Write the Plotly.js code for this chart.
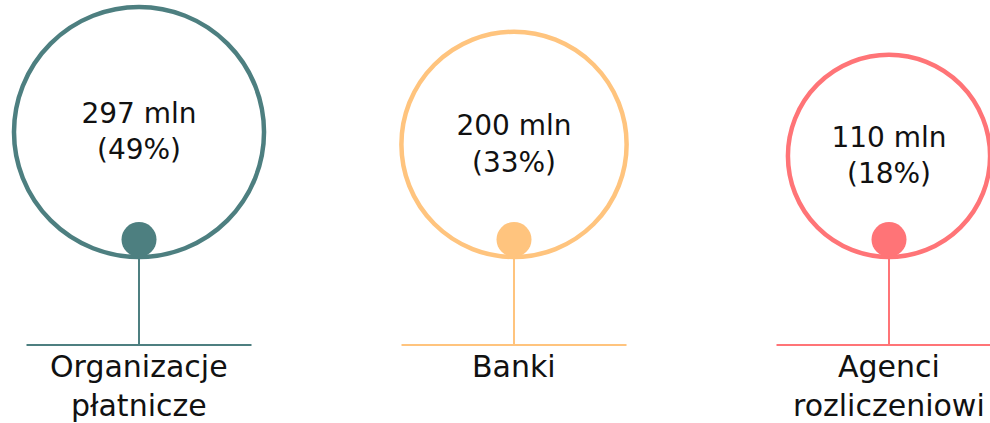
<!DOCTYPE html>
<html>
<head>
<meta charset="utf-8">
<script src="https://cdn.plot.ly/plotly-3.0.1.min.js"></script>
<style>html,body{margin:0;padding:0;background:#fff;}#chart{width:990px;height:423px;}</style>
</head>
<body>
<div id="chart"></div>
<script>
// ---- data ----
const categories = ['Organizacje<br>płatnicze', 'Banki', 'Agenci<br>rozliczeniowi'];
const values = [297, 200, 110];          // mln
const shares = [49, 33, 18];             // %
const colors = ['#4D7F80', '#FFC47E', '#FF7477'];

// ---- geometry (styling, in plot units) ----
const baseY = 257;     // bottom of every circle
const lineY = 345;     // horizontal base line
const radius = v => 87 + 0.128 * v;   // circle radius (px) from value
const dotSize = 35;
const halfBar = 0.30;

const traces = [];
const annotations = [];
categories.forEach((cat, i) => {
  const r = radius(values[i]);
  const cy = baseY - r;
  // stem and base line
  traces.push({x: [i, i], y: [baseY, lineY], mode: 'lines', line: {color: colors[i], width: 2}, hoverinfo: 'skip'});
  traces.push({x: [i - halfBar, i + halfBar], y: [lineY, lineY], mode: 'lines', line: {color: colors[i], width: 2}, hoverinfo: 'skip'});
  // big ring
  traces.push({x: [i], y: [cy], mode: 'markers',
    marker: {symbol: 'circle', size: 2 * r, color: 'rgba(0,0,0,0)', line: {color: colors[i], width: 4.5}}, hoverinfo: 'skip'});
  // dot
  traces.push({x: [i], y: [baseY - dotSize / 2], mode: 'markers',
    marker: {symbol: 'circle', size: dotSize, color: colors[i], line: {width: 0}}, hoverinfo: 'skip'});
  // value text
  traces.push({x: [i], y: [cy + 2], mode: 'text', text: [values[i] + ' mln<br>(' + shares[i] + '%)'],
    textposition: 'middle center', textfont: {family: 'DejaVu Sans', size: 28, color: '#111'}, hoverinfo: 'skip'});
  // category label
  annotations.push({x: i, y: lineY + 2, xref: 'x', yref: 'y', text: cat, showarrow: false,
    xanchor: 'center', yanchor: 'top', align: 'center',
    font: {family: 'DejaVu Sans', size: 30, color: '#111'}});
});

const layout = {
  width: 990, height: 423,
  margin: {l: 0, r: 0, t: 0, b: 0},
  paper_bgcolor: '#fff', plot_bgcolor: '#fff',
  showlegend: false,
  xaxis: {range: [-0.3707, 2.2693], visible: false, fixedrange: true},
  yaxis: {range: [423, 0], visible: false, fixedrange: true},
  annotations: annotations
};
Plotly.newPlot('chart', traces, layout, {displayModeBar: false, staticPlot: true});
</script>
</body>
</html>
